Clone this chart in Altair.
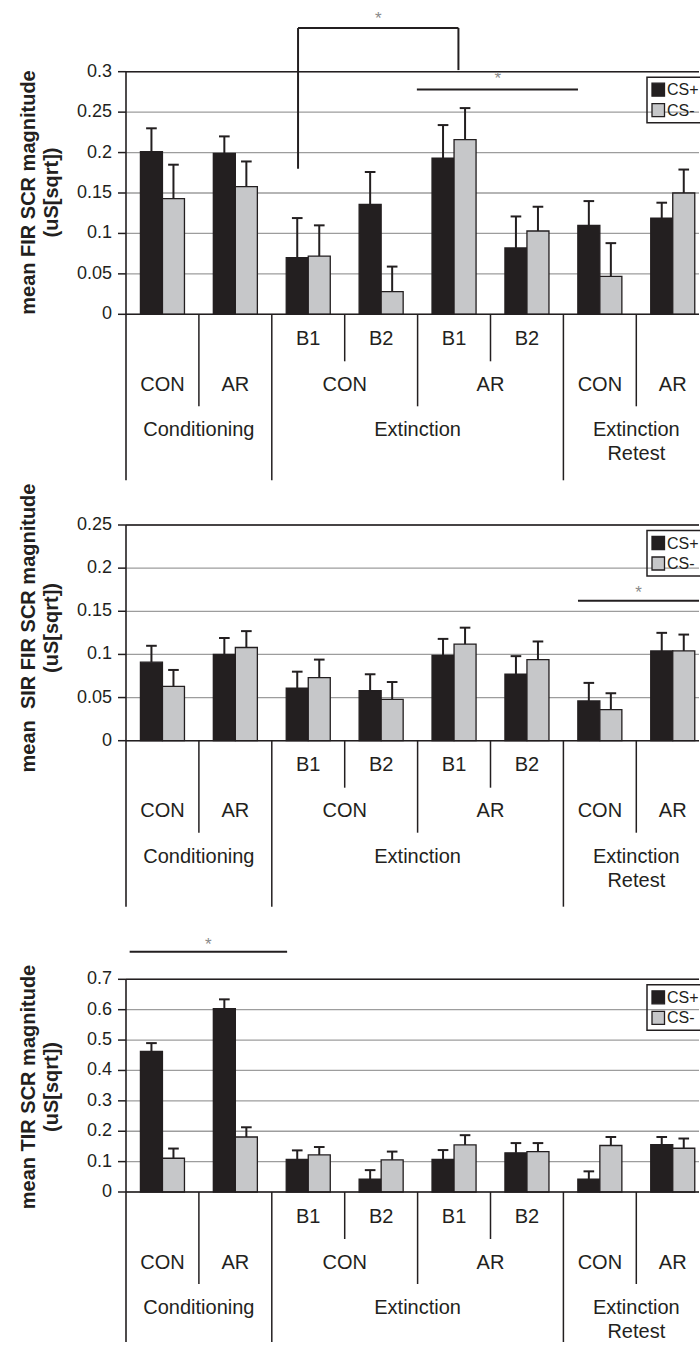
import altair as alt
import pandas as pd

# ---------------- data ----------------
phases = ["Conditioning", "Conditioning", "Extinction", "Extinction",
          "Extinction", "Extinction", "Extinction Retest", "Extinction Retest"]
group_labels = ["CON", "AR", "CON", "CON", "AR", "AR", "CON", "AR"]
block_labels = ["", "", "B1", "B2", "B1", "B2", "", ""]
conditions = ["CS+", "CS-"]

fir_plus = [0.201, 0.199, 0.070, 0.136, 0.193, 0.082, 0.110, 0.119]
fir_plus_sem = [0.029, 0.021, 0.049, 0.040, 0.041, 0.039, 0.030, 0.019]
fir_minus = [0.143, 0.158, 0.072, 0.028, 0.216, 0.103, 0.047, 0.150]
fir_minus_sem = [0.042, 0.031, 0.038, 0.031, 0.039, 0.030, 0.041, 0.029]

sir_plus = [0.091, 0.100, 0.061, 0.058, 0.099, 0.077, 0.046, 0.104]
sir_plus_sem = [0.019, 0.019, 0.019, 0.019, 0.019, 0.021, 0.021, 0.021]
sir_minus = [0.063, 0.108, 0.073, 0.048, 0.112, 0.094, 0.036, 0.104]
sir_minus_sem = [0.019, 0.019, 0.021, 0.020, 0.019, 0.021, 0.019, 0.019]

tir_plus = [0.463, 0.603, 0.107, 0.042, 0.107, 0.129, 0.042, 0.156]
tir_plus_sem = [0.027, 0.031, 0.030, 0.030, 0.031, 0.032, 0.026, 0.025]
tir_minus = [0.111, 0.181, 0.122, 0.106, 0.155, 0.133, 0.153, 0.144]
tir_minus_sem = [0.032, 0.032, 0.026, 0.027, 0.032, 0.028, 0.028, 0.032]

fir_ticks = [0, 0.05, 0.1, 0.15, 0.2, 0.25, 0.3]
sir_ticks = [0, 0.05, 0.1, 0.15, 0.2, 0.25]
tir_ticks = [0, 0.1, 0.2, 0.3, 0.4, 0.5, 0.6, 0.7]

fir_title = ["mean FIR SCR magnitude", "(uS[sqrt])"]
sir_title = ["mean\u00a0 SIR FIR SCR magnitude", "(uS[sqrt])"]
tir_title = ["mean TIR SCR magnitude", "(uS[sqrt])"]

# significance annotations (x in group units, y in data units)
fir_sig_segments = [(2.36, 2.36, 0.180, 0.354), (2.36, 4.56, 0.354, 0.354),
                    (4.56, 4.56, 0.354, 0.302), (3.99, 6.20, 0.278, 0.278)]
fir_sig_stars = [(3.46, 0.365), (5.10, 0.291)]
sir_sig_segments = [(6.20, 7.86, 0.1623, 0.1623)]
sir_sig_stars = [(7.03, 0.1712)]
tir_sig_segments = [(0.05, 2.21, 0.791, 0.791)]
tir_sig_stars = [(1.13, 0.812)]

# ---------------- style / layout ----------------
FONT = "Liberation Sans"
INK = "#231f20"
GRAY = "#c6c7c9"
GRID = "#9d9d9d"
GW = 72.9            # px per group
W = 573              # plot width (px)
HT = 1342            # total plot height (px)
XMAX = W / GW
BAR_HALF = 0.151
CAP_HALF = 0.073
ROW_BLOCK, ROW_GROUP, ROW_PHASE, ROW_PHASE2 = 24.5, 70.5, 116.0, 140.0
LEN_BLOCK, LEN_GROUP, LEN_MAJOR = 47, 92, 166

PANEL_TOPS = [71.7, 525.0, 979.3]
PANEL_BOTTOMS = [314.3, 740.7, 1192.0]


def boundaries():
    out = []
    for k in range(len(phases)):
        if k == 0 or phases[k] != phases[k - 1]:
            lvl = "major"
        elif group_labels[k] != group_labels[k - 1]:
            lvl = "group"
        else:
            lvl = "block"
        out.append(dict(x=float(k), level=lvl))
    return pd.DataFrame(out)


def spans(keys):
    res = []
    start = 0
    for k in range(1, len(keys) + 1):
        if k == len(keys) or keys[k] != keys[start]:
            res.append((start, k, keys[start]))
            start = k
    return res


XS = alt.Scale(domain=[0, XMAX], nice=False, zero=False)


def qx(field, scale=False):
    if scale:
        return alt.X(field, type="quantitative", axis=None, scale=XS)
    return alt.X(field, type="quantitative", axis=None)


def panel(plus, plus_sem, minus, minus_sem, ticks, top, bottom, title, title_y,
          segs, stars, major_len):
    ymax = ticks[-1]
    ys = alt.Scale(domain=[0, ymax], range=[bottom, top], nice=False, zero=True)

    rows = []
    for i in range(len(phases)):
        for cond, vals, sems, off in (("CS+", plus, plus_sem, -BAR_HALF),
                                      ("CS-", minus, minus_sem, BAR_HALF)):
            c = i + 0.5 + off
            rows.append(dict(cond=cond, xl=c - BAR_HALF, xr=c + BAR_HALF, xc=c,
                             capl=c - CAP_HALF, capr=c + CAP_HALF,
                             value=vals[i], top=vals[i] + sems[i], zero=0.0))
    df = pd.DataFrame(rows)

    tdf = pd.DataFrame({"v": ticks, "label": [f"{t:g}" for t in ticks]})

    grid = alt.Chart(tdf).mark_rule(color=GRID, strokeWidth=1.3).encode(
        x=alt.value(0), x2=alt.value(W),
        y=alt.Y("v:Q", scale=ys, axis=None))
    tickmarks = alt.Chart(tdf).mark_rule(color=INK, strokeWidth=1.5).encode(
        x=alt.value(-8), x2=alt.value(0), y=alt.Y("v:Q", axis=None))
    ticklabels = alt.Chart(tdf).mark_text(font=FONT, fontSize=18, color=INK,
                                          align="right", baseline="middle").encode(
        x=alt.value(-14), y=alt.Y("v:Q", axis=None), text="label:N")

    base = alt.Chart(df)
    bars = base.mark_rect(stroke=INK, strokeWidth=1.3).encode(
        x=qx("xl", True), x2="xr",
        y=alt.Y("value:Q", axis=None), y2="zero",
        color=alt.Color("cond:N", scale=alt.Scale(domain=conditions, range=[INK, GRAY]),
                        legend=None))
    err = base.mark_rule(color=INK, strokeWidth=2).encode(
        x=qx("xc"), y=alt.Y("value:Q", axis=None), y2="top")
    caps = base.mark_rule(color=INK, strokeWidth=2).encode(
        x=qx("capl"), x2="capr", y=alt.Y("top:Q", axis=None))

    frame_df = pd.DataFrame({"y": [0.0, ymax]})
    frame = alt.Chart(frame_df).mark_rule(color=INK, strokeWidth=1.6).encode(
        x=alt.value(0), x2=alt.value(W), y=alt.Y("y:Q", axis=None))

    one = pd.DataFrame({"k": [0]})
    # left axis line, continuing down as the outer table border
    domain = alt.Chart(one).mark_rule(color=INK, strokeWidth=1.6).encode(
        x=alt.value(0), y=alt.value(top), y2=alt.value(bottom + major_len))

    layers = [grid, bars, err, caps, frame, domain, tickmarks, ticklabels]

    for txt, xpos in zip(title, (-97.5, -74.5)):
        layers.append(alt.Chart(pd.DataFrame({"t": [txt]})).mark_text(
            font=FONT, fontSize=20, fontWeight="bold", color=INK, angle=270,
            align="center", baseline="middle").encode(
            x=alt.value(xpos), y=alt.value(title_y), text="t:N"))

    bdf = boundaries()
    bdf = bdf[bdf.x > 0]
    for lvl, ln in (("block", LEN_BLOCK), ("group", LEN_GROUP), ("major", major_len)):
        sub = bdf[bdf.level == lvl]
        layers.append(alt.Chart(sub).mark_rule(color=INK, strokeWidth=1.5).encode(
            x=qx("x"), y=alt.value(bottom), y2=alt.value(bottom + ln)))

    blk = pd.DataFrame([dict(x=i + 0.5, label=b) for i, b in enumerate(block_labels) if b])
    grp_keys = [p + "|" + g for p, g in zip(phases, group_labels)]
    grp = pd.DataFrame([dict(x=(s + e) / 2, label=k.split("|")[1]) for s, e, k in spans(grp_keys)])
    ph_rows, ph2_rows = [], []
    for s, e, k in spans(phases):
        words = k.split(" ")
        ph_rows.append(dict(x=(s + e) / 2, label=words[0]))
        if len(words) > 1:
            ph2_rows.append(dict(x=(s + e) / 2, label=" ".join(words[1:])))
    for tdf2, off in ((blk, ROW_BLOCK), (grp, ROW_GROUP),
                      (pd.DataFrame(ph_rows), ROW_PHASE), (pd.DataFrame(ph2_rows), ROW_PHASE2)):
        layers.append(alt.Chart(tdf2).mark_text(font=FONT, fontSize=20, color=INK,
                                                baseline="middle", align="center").encode(
            x=qx("x"), y=alt.value(bottom + off), text="label:N"))

    sdf = pd.DataFrame([dict(x=a, x2=b, y=c, y2=d) for a, b, c, d in segs])
    layers.append(alt.Chart(sdf).mark_rule(color=INK, strokeWidth=2).encode(
        x=qx("x"), x2="x2", y=alt.Y("y:Q", axis=None), y2="y2"))
    stdf = pd.DataFrame([dict(x=a, y=b) for a, b in stars])
    layers.append(alt.Chart(stdf).mark_text(text="*", font=FONT, fontSize=17,
                                            color="#8a8a8a", baseline="middle").encode(
        x=qx("x"), y=alt.Y("y:Q", axis=None)))

    # legend box: right edge lies beyond the visible page, as in the original crop
    layers.append(alt.Chart(one).mark_rect(fill=None, fillOpacity=0, stroke=INK,
                                           strokeWidth=1.5).encode(
        x=alt.value(521), x2=alt.value(W + 4), y=alt.value(top + 5.5), y2=alt.value(top + 51)))
    for cond, col, y0 in (("CS+", INK, 11.5), ("CS-", GRAY, 32.0)):
        layers.append(alt.Chart(one).mark_rect(fill=col, stroke=INK, strokeWidth=1.3).encode(
            x=alt.value(526), x2=alt.value(538.5), y=alt.value(top + y0), y2=alt.value(top + y0 + 13)))
        layers.append(alt.Chart(one).mark_text(text=cond, font=FONT, fontSize=16, color=INK,
                                               align="left", baseline="middle").encode(
            x=alt.value(541), y=alt.value(top + y0 + 7)))

    return alt.layer(*layers)


p1 = panel(fir_plus, fir_plus_sem, fir_minus, fir_minus_sem, fir_ticks, PANEL_TOPS[0], PANEL_BOTTOMS[0],
           fir_title, 192.5, fir_sig_segments, fir_sig_stars, LEN_MAJOR)
p2 = panel(sir_plus, sir_plus_sem, sir_minus, sir_minus_sem, sir_ticks, PANEL_TOPS[1], PANEL_BOTTOMS[1],
           sir_title, 628.0, sir_sig_segments, sir_sig_stars, LEN_MAJOR)
p3 = panel(tir_plus, tir_plus_sem, tir_minus, tir_minus_sem, tir_ticks, PANEL_TOPS[2], PANEL_BOTTOMS[2],
           tir_title, 1087.0, tir_sig_segments, tir_sig_stars, HT - PANEL_BOTTOMS[2])

chart = alt.layer(p1, p2, p3).resolve_scale(y="independent").properties(
    width=W, height=HT,
    autosize=alt.AutoSizeParams(type="none"),
    padding={"left": 126, "top": 0, "right": 1, "bottom": 0},
).configure(font=FONT).configure_view(stroke=None, strokeWidth=0)

chart.save("out.html", embed_options={"renderer": "svg", "actions": False})
